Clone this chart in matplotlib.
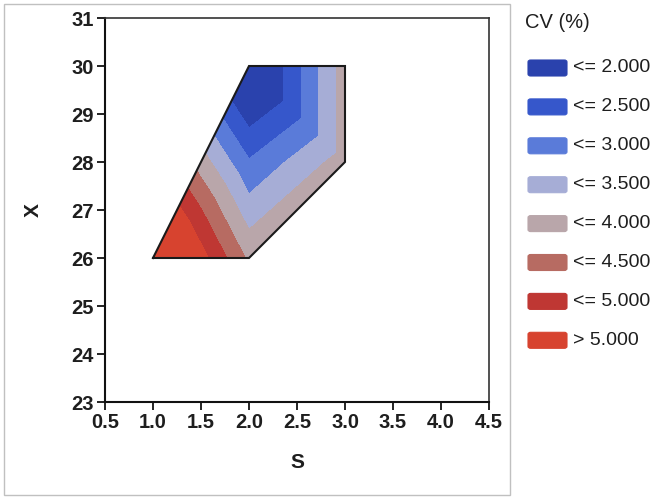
import matplotlib
matplotlib.use("Agg")
import matplotlib.pyplot as plt
import matplotlib.tri as mtri
from matplotlib.patches import Rectangle, FancyBboxPatch

plt.rcParams['font.family'] = ['Liberation Sans', 'DejaVu Sans']

# Design points (S, X) and the measured CV (%) at each one
s_vals = [1.0, 2.0, 3.0, 3.0, 2.0, 2.0]
x_vals = [26.0, 26.0, 28.0, 30.0, 30.0, 28.0]
cv_vals = [6.5, 3.9, 3.75, 3.75, 1.0, 2.55]

# Triangles joining the design points, and the outline of the design region
design_triangles = [(0, 1, 5), (0, 5, 4), (1, 2, 5), (5, 2, 4), (2, 3, 4)]
boundary_order = [0, 1, 2, 3, 4, 0]

# Contour bands
cv_levels = [2.0, 2.5, 3.0, 3.5, 4.0, 4.5, 5.0]
band_labels = ["<= 2.000", "<= 2.500", "<= 3.000", "<= 3.500",
               "<= 4.000", "<= 4.500", "<= 5.000", "> 5.000"]
band_colors = ["#2a42ad", "#3657cb", "#5a7bd9", "#a6add6",
               "#b9a6aa", "#b76b62", "#bf3733", "#d7432f"]

x_ticks = [0.5, 1.0, 1.5, 2.0, 2.5, 3.0, 3.5, 4.0, 4.5]
y_ticks = [23, 24, 25, 26, 27, 28, 29, 30, 31]

W, H = 666, 499
fig = plt.figure(figsize=(W / 100, H / 100), dpi=100)

# light frame around the graph
fig.patches.append(Rectangle((4 / W, 1 - 495 / H), (510 - 4) / W, (495 - 4) / H,
                             transform=fig.transFigure, fill=False,
                             edgecolor="#c0c0c0", linewidth=1.0))

ax = fig.add_axes([105 / W, 1 - 402 / H, (489 - 105) / W, (402 - 18) / H])

tri = mtri.Triangulation(s_vals, x_vals, triangles=design_triangles)
ax.tricontourf(tri, cv_vals, levels=[-100.0] + cv_levels + [100.0],
               colors=band_colors)
ax.plot([s_vals[i] for i in boundary_order], [x_vals[i] for i in boundary_order],
        color="#1a1a1a", linewidth=1.5, solid_joinstyle="miter")

ax.set_xlim(x_ticks[0], x_ticks[-1])
ax.set_ylim(y_ticks[0], y_ticks[-1])
ax.set_xticks(x_ticks)
ax.set_xticklabels([f"{v:.1f}" for v in x_ticks])
ax.set_yticks(y_ticks)
ax.set_yticklabels([str(v) for v in y_ticks])
ax.tick_params(direction="out", length=6, width=1.3, color="#111111",
               labelsize=14.5, labelcolor="#1e1e1e", pad=2)
for lab in ax.get_xticklabels() + ax.get_yticklabels():
    lab.set_fontweight("bold")
for side in ("left", "bottom"):
    ax.spines[side].set_linewidth(1.5)
    ax.spines[side].set_color("#111111")
for side in ("top", "right"):
    ax.spines[side].set_linewidth(1.2)
    ax.spines[side].set_color("#333333")

fig.text(297 / W, 1 - 463 / H, "S", ha="center", va="center", fontsize=15,
         color="#1e1e1e", fontweight="bold")
fig.text(33 / W, 1 - 210 / H, "X", ha="center", va="center", fontsize=15,
         color="#1e1e1e", rotation=90, fontweight="bold")

# Legend
fig.text(525 / W, 1 - 23 / H, "CV (%)", ha="left", va="center", fontsize=14.5,
         color="#1e1e1e")
row0, step = 68, 38.9
for i, (lab, col) in enumerate(zip(band_labels, band_colors)):
    yc = row0 + i * step
    fig.patches.append(FancyBboxPatch((528 / W, 1 - (yc + 8) / H), 39 / W, 16 / H,
                                      boxstyle="round,pad=0,rounding_size=0.004",
                                      transform=fig.transFigure,
                                      facecolor=col, edgecolor=col, linewidth=0.8))
    fig.text(573 / W, 1 - yc / H, lab, ha="left", va="center", fontsize=14,
             color="#1e1e1e")

fig.savefig("out.png", dpi=100)
